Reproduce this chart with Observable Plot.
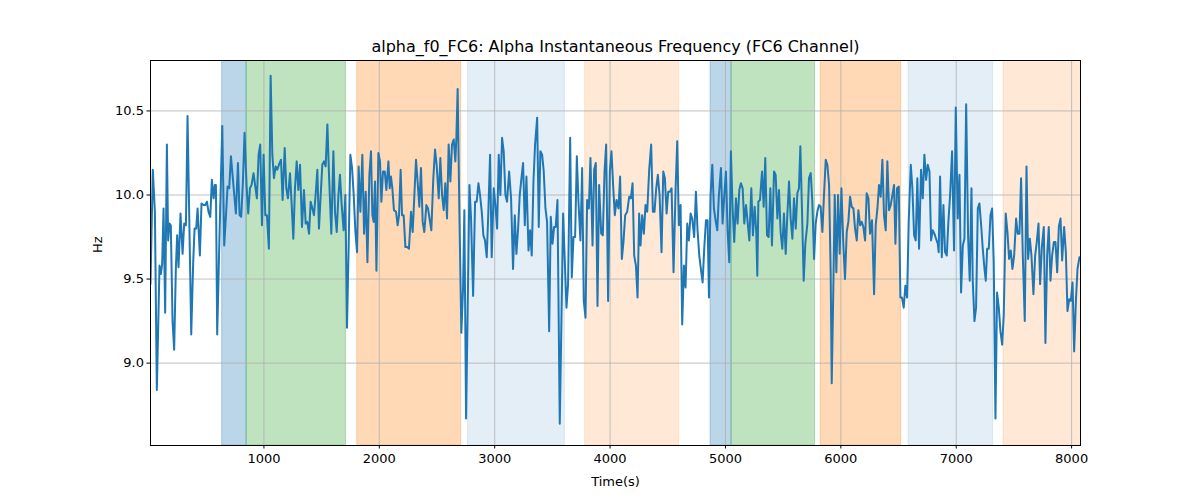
<!DOCTYPE html>
<html><head><meta charset="utf-8">
<script src="https://cdn.jsdelivr.net/npm/d3@7"></script>
<script src="https://cdn.jsdelivr.net/npm/@observablehq/plot@0.6"></script>
<style>body{margin:0;background:#fff;} svg{font-family:"DejaVu Sans",sans-serif;}</style>
</head><body><div id="chart"></div>
<script>
const times = [17,37,55,72,95,107,118,130,144,159,170,182,193,208,222,237,248,260,277,295,309,324,338,370,387,399,413,425,445,459,477,491,506,520,535,549,564,575,584,595,618,639,656,673,685,699,714,728,743,757,775,789,803,818,832,850,864,879,893,910,925,939,954,968,983,997,1012,1026,1043,
1058,1073,1087,1102,1116,1130,1148,1162,1180,1194,1208,1226,1240,1255,1269,1284,1298,1313,1330,1347,1362,1376,1391,1405,1420,1434,1448,1463,1477,1492,1506,1521,1535,1550,1564,1584,1602,1616,1631,1645,1659,1674,1691,1706,1720,1735,1749,1764,1778,1793,1807,1821,1836,1853,1868,1882,1897,1914,1928,1940,1951,1963,1975,1992,2006,2018,2032,2047,2061,2079,
2090,2101,2113,2127,2145,2159,2171,2185,2197,2211,2226,2243,2257,2275,2289,2304,2318,2333,2347,2361,2376,2390,2408,2422,2451,2468,2483,2497,2515,2529,2544,2558,2572,2587,2601,2616,2630,2645,2659,2668,2679,2694,2711,2726,2737,2752,2766,2781,2795,2813,2830,2844,2859,2873,2888,2902,2916,2931,2945,2960,2974,2992,3006,3021,3035,3049,3064,3078,3093,3107,3125,
3142,3159,3174,3188,3203,3217,3232,3246,3261,3275,3293,3307,3321,3336,3350,3368,3382,3396,3411,3425,3440,3454,3472,3486,3501,3515,3529,3544,3564,3593,3622,3636,3654,3668,3683,3697,3712,3726,3743,3758,3772,3787,3801,3816,3830,3848,3862,3876,3891,3905,3923,3937,3952,3966,3983,3998,4012,4027,4041,4056,4073,4087,4102,4116,4131,4148,4166,
4180,4195,4209,4224,4238,4252,4264,4278,4293,4307,4322,4339,4356,4371,4385,4400,4414,4429,4446,4461,4475,4490,4504,4518,4533,4550,4568,4582,4596,4611,4625,4640,4654,4669,4683,4698,4712,4729,4744,4758,4773,4787,4802,4816,4831,4845,4857,4871,4886,4900,4914,4929,4943,4961,4975,4990,5004,5019,5033,5047,5062,5076,5091,5105,5120,5134,5149,5163,5178,5192,5207,
5224,5238,5253,5267,5276,5285,5299,5317,5331,5345,5360,5374,5389,5403,5421,5435,5450,5464,5478,5493,5507,5522,5536,5551,5565,5580,5594,5609,5623,5637,5649,5663,5678,5692,5710,5724,5739,5753,5768,5782,5796,5811,5825,5840,5854,5869,5883,5898,5912,5921,5935,5947,5961,5976,5990,6005,6022,6036,6051,6065,6080,6094,6109,6123,6138,6152,6167,6181,6195,6210,6224,6239,6253,
6270,6288,6302,6317,6331,6345,6360,6374,6389,6403,6418,6432,6447,6461,6473,6487,6502,6516,6530,6545,6559,6574,6588,6606,6620,6635,6649,6663,6678,6695,6710,6724,6739,6753,6768,6782,6796,6811,6825,6840,6848,6860,6875,6889,6903,6918,6932,6947,6964,6981,6996,7013,7028,7042,7057,7071,7086,7103,7117,7132,7143,7158,7172,7187,7201,7216,7230,7245,7256,7268,7282,7297,
7311,7325,7340,7354,7369,7383,7398,7412,7429,7444,7458,7473,7487,7502,7519,7533,7548,7562,7577,7594,7609,7623,7638,7652,7669,7684,7698,7713,7727,7742,7759,7773,7788,7802,7817,7831,7846,7860,7875,7889,7904,7918,7935,7950,7964,7979,7993,8008,8022,8037,8051,8068];
const values = [9.47,10.15,9.90,8.84,9.58,9.53,9.59,9.92,9.30,10.30,9.73,9.83,9.82,9.25,9.08,9.57,9.76,9.57,9.89,9.65,9.83,9.82,10.47,9.17,9.60,9.80,9.80,9.92,9.64,9.95,9.94,9.94,9.96,9.90,9.87,10.09,9.98,10.06,10.06,9.17,9.84,10.41,9.70,9.90,10.05,10.04,10.23,10.12,10.00,9.89,10.19,9.88,9.87,10.08,10.37,10.05,9.89,10.04,10.06,10.13,10.05,9.98,10.24,10.30,9.82,10.24,9.88,9.88,9.68,
10.71,10.24,10.10,10.17,10.15,10.18,10.21,9.97,10.28,10.04,9.98,10.13,9.95,9.74,10.04,10.20,10.03,10.18,9.81,10.03,9.83,9.84,9.77,9.96,9.92,9.88,10.00,10.15,9.80,10.00,10.18,10.20,10.17,10.42,10.12,9.77,10.26,9.90,9.78,9.99,10.12,9.94,9.79,10.00,9.21,9.72,10.24,10.16,10.00,9.78,9.66,10.17,9.90,10.24,9.77,10.02,9.60,10.12,10.26,9.88,9.84,10.08,9.55,10.25,10.20,9.96,10.14,10.14,10.03,10.20,
10.04,10.11,10.04,9.91,9.90,9.82,9.88,10.15,9.88,9.88,9.69,9.69,9.68,9.90,9.78,10.00,10.21,10.07,9.93,10.16,9.84,9.78,9.94,9.92,9.79,10.10,10.27,10.18,9.98,10.22,10.00,9.91,10.07,9.86,10.30,10.08,10.30,10.33,10.20,10.34,10.63,9.90,9.18,9.45,9.91,8.67,9.33,10.06,9.86,9.40,9.96,9.96,10.07,10.00,9.90,9.76,9.73,9.63,9.90,10.24,9.63,10.04,9.94,9.80,10.24,10.00,10.34,10.26,10.00,9.96,10.14,
9.98,9.56,9.88,9.65,9.80,10.00,10.10,10.19,9.82,10.11,9.67,9.79,9.64,10.08,10.30,10.46,9.81,10.26,10.24,10.14,9.92,9.84,9.19,9.87,9.71,9.81,9.81,9.97,8.64,9.89,9.33,9.47,10.34,9.51,9.75,9.75,10.23,9.96,9.73,10.16,9.37,9.27,9.97,9.92,10.22,9.70,10.15,10.19,9.34,10.06,9.77,9.76,10.14,10.30,9.37,10.14,10.26,10.05,9.88,9.97,9.92,10.11,9.62,9.72,9.88,9.90,9.99,
9.98,10.07,9.64,9.58,9.39,9.89,9.70,9.88,9.77,9.94,9.90,10.15,10.30,9.90,9.90,10.04,10.12,10.00,9.66,10.14,10.10,9.89,10.02,10.02,10.04,9.54,10.04,10.32,9.82,9.94,9.23,9.58,9.45,9.83,9.73,9.89,9.86,9.75,10.02,9.79,9.64,9.56,9.48,9.68,9.85,9.85,9.39,10.00,10.18,9.92,9.85,9.79,10.00,10.16,9.83,10.00,10.14,9.78,9.60,10.26,9.92,9.72,9.98,9.83,10.03,10.07,10.04,9.83,9.94,9.84,9.73,
10.04,9.76,9.93,9.78,9.52,9.96,9.97,10.14,9.93,10.22,9.76,9.75,10.04,9.70,10.14,10.12,9.86,10.03,9.78,9.68,9.89,9.65,9.88,10.08,9.86,9.74,9.98,9.80,10.01,10.04,10.29,9.92,9.49,9.71,9.83,10.10,10.13,9.96,9.62,9.83,9.90,9.94,9.93,9.78,10.00,10.21,10.18,10.06,9.53,8.88,9.45,10.00,9.54,10.00,9.65,10.04,9.70,9.50,9.78,9.84,9.99,9.93,9.92,9.80,9.73,9.91,9.82,9.84,9.81,9.73,10.01,9.98,9.77,
9.85,9.41,9.82,9.92,10.06,9.99,10.21,9.88,9.79,10.20,9.91,9.94,10.00,10.06,9.71,10.04,10.05,9.39,9.39,9.33,9.46,9.39,9.84,10.18,10.04,9.76,9.73,10.10,9.68,10.15,9.98,10.24,10.09,10.18,10.14,9.73,9.79,9.77,9.74,9.71,9.66,10.11,9.63,9.94,9.66,9.64,9.84,10.00,10.26,9.67,10.52,9.86,10.12,9.42,9.70,9.74,10.54,9.75,9.49,10.04,9.49,9.25,9.33,9.92,9.95,9.82,9.68,9.56,9.49,9.68,9.68,9.88,
9.92,9.60,8.67,9.42,9.33,9.19,9.11,9.29,9.89,9.78,9.62,9.67,9.56,9.64,9.86,9.77,9.77,10.10,9.64,9.25,10.17,9.62,9.74,9.64,9.41,9.64,9.72,9.83,9.47,9.69,9.81,9.12,9.64,9.81,9.49,9.64,9.72,9.72,9.54,9.81,9.86,9.61,9.81,9.66,9.31,9.38,9.37,9.48,9.07,9.37,9.56,9.63];

const spanStart = [638, 850, 1809, 2769, 3784, 4871, 5053, 5825, 6588, 7410];
const spanEnd   = [850, 1711, 2709, 3608, 4599, 5053, 5776, 6522, 7320, 8100];
const spanKind  = ["blue","green","orange","lightblue","lightorange","blue","green","orange","lightblue","lightorange"];
const xTicks = [1000, 2000, 3000, 4000, 5000, 6000, 7000, 8000];
const yTicks = [9.0, 9.5, 10.0, 10.5];
const titleText = "alpha_f0_FC6: Alpha Instantaneous Frequency (FC6 Channel)";
const xLabel = "Time(s)";
const yLabel = "Hz";

const kindColor = {blue:"#1f77b4", green:"#2ca02c", orange:"#ff7f0e", lightblue:"#1f77b4", lightorange:"#ff7f0e"};
const kindAlpha = {blue:0.3, green:0.3, orange:0.3, lightblue:0.12, lightorange:0.17};

const spans = spanStart.map((s, i) => ({x1: s, x2: spanEnd[i], kind: spanKind[i]}));
const data = times.map((t, i) => ({t, v: values[i]}));

const plot = Plot.plot({
  width: 1200, height: 500,
  marginLeft: 150, marginRight: 120, marginTop: 60, marginBottom: 55,
  style: {fontFamily: "DejaVu Sans, sans-serif", fontSize: "13px", background: "white", color: "black", overflow: "visible"},
  x: {domain: [times[0], 8077]},
  y: {domain: [8.51, 10.80]},
  marks: [
    Plot.rect(spans, {x1: "x1", x2: "x2", fill: d => kindColor[d.kind], fillOpacity: d => kindAlpha[d.kind],
      stroke: d => kindColor[d.kind], strokeOpacity: d => kindAlpha[d.kind], strokeWidth: 1, clip: true}),
    Plot.gridX(xTicks, {stroke: "#b0b0b0", strokeOpacity: 1, strokeWidth: 0.8}),
    Plot.gridY(yTicks, {stroke: "#b0b0b0", strokeOpacity: 1, strokeWidth: 0.8}),
    Plot.lineY(data, {x: "t", y: "v", stroke: "#1f77b4", strokeWidth: 2, clip: true}),
    Plot.frame({stroke: "black", strokeWidth: 1}),
    Plot.axisX({ticks: xTicks, tickSize: 3.5, tickPadding: 5, tickFormat: d3.format("d"), label: null, fontSize: 13}),
    Plot.axisY({ticks: yTicks, tickSize: 3.5, tickPadding: 3, tickFormat: d3.format(".1f"), label: null, fontSize: 13}),
    Plot.text([titleText], {frameAnchor: "top", dy: -14, fontSize: 16, lineAnchor: "middle"}),
    Plot.text([xLabel], {frameAnchor: "bottom", dy: 36, fontSize: 13, lineAnchor: "middle"}),
    Plot.text([yLabel], {frameAnchor: "left", dx: -53, rotate: -90, fontSize: 13, lineAnchor: "middle"})
  ]
});
document.getElementById("chart").appendChild(plot);
</script>
</body></html>
